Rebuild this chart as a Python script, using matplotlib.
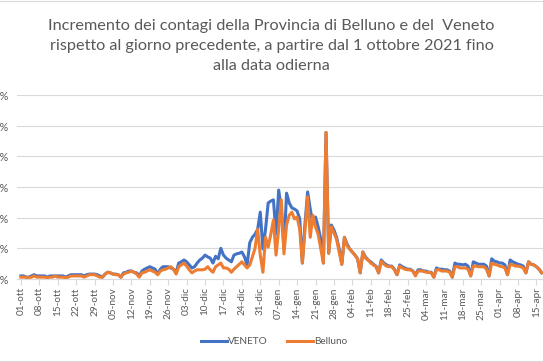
import matplotlib.pyplot as plt
import matplotlib.lines as mlines
import numpy as np
import pandas as pd

# daily increment (%) from 01-10-2021
start = '2021-10-01'
veneto = [
    # ott
    0.05, 0.05, 0.03, 0.03, 0.05, 0.07, 0.05, 0.05, 0.05, 0.05, 0.03, 0.05, 0.05, 0.05, 0.05, 0.05,
    0.05, 0.03, 0.05, 0.07, 0.07, 0.07, 0.07, 0.07, 0.05, 0.07, 0.08, 0.08, 0.08, 0.07, 0.05,
    # nov
    0.03, 0.08, 0.11, 0.10, 0.08, 0.08, 0.07, 0.03, 0.10, 0.11, 0.13, 0.13, 0.11, 0.10, 0.05,
    0.13, 0.16, 0.18, 0.20, 0.18, 0.16, 0.08, 0.16, 0.20, 0.20, 0.20, 0.18, 0.16, 0.11,
    # dic
    0.26, 0.28, 0.31, 0.28, 0.23, 0.18, 0.20, 0.26, 0.31, 0.34, 0.39, 0.36, 0.34, 0.26, 0.37, 0.33,
    0.50, 0.39, 0.34, 0.31, 0.28, 0.39, 0.41, 0.42, 0.44, 0.36, 0.23, 0.59, 0.68, 0.73, 0.81, 1.09,
    # gen
    0.49, 0.81, 1.24, 1.27, 1.29, 0.73, 1.45, 1.14, 0.49, 1.40, 1.24, 1.16, 1.14, 1.11, 0.98, 0.26,
    0.90, 1.42, 1.14, 0.90, 1.01, 0.85, 0.65, 0.26, 2.39, 0.42, 0.88, 0.80, 0.68, 0.49, 0.24,
    # feb
    0.68, 0.57, 0.49, 0.44, 0.39, 0.33, 0.10, 0.44, 0.36, 0.31, 0.28, 0.24, 0.21, 0.10,
    0.31, 0.26, 0.23, 0.21, 0.21, 0.16, 0.07, 0.23, 0.20, 0.18, 0.16, 0.16, 0.13, 0.07,
    # mar
    0.15, 0.15, 0.13, 0.13, 0.11, 0.11, 0.03, 0.18, 0.16, 0.16, 0.15, 0.15, 0.13, 0.03, 0.26, 0.24,
    0.24, 0.23, 0.24, 0.21, 0.05, 0.28, 0.26, 0.24, 0.24, 0.24, 0.21, 0.05, 0.33, 0.29, 0.28,
    # apr
    0.26, 0.26, 0.23, 0.07, 0.31, 0.28, 0.26, 0.24, 0.23, 0.21, 0.10, 0.28, 0.24, 0.23, 0.20, 0.16, 0.10,
]
belluno = [
    # ott
    0.03, 0.03, 0.03, 0.02, 0.03, 0.05, 0.03, 0.03, 0.03, 0.03, 0.02, 0.03, 0.03, 0.05, 0.03, 0.03,
    0.03, 0.02, 0.03, 0.05, 0.05, 0.05, 0.05, 0.05, 0.03, 0.05, 0.07, 0.07, 0.07, 0.05, 0.03,
    # nov
    0.03, 0.08, 0.11, 0.10, 0.08, 0.07, 0.07, 0.03, 0.08, 0.10, 0.11, 0.13, 0.11, 0.08, 0.03,
    0.10, 0.11, 0.13, 0.15, 0.13, 0.11, 0.07, 0.13, 0.15, 0.16, 0.18, 0.20, 0.16, 0.08,
    # dic
    0.20, 0.23, 0.26, 0.21, 0.15, 0.10, 0.13, 0.15, 0.15, 0.15, 0.16, 0.20, 0.15, 0.11, 0.20, 0.23,
    0.26, 0.18, 0.18, 0.16, 0.11, 0.16, 0.20, 0.24, 0.28, 0.23, 0.18, 0.23, 0.36, 0.50, 0.81, 0.39,
    # gen
    0.11, 0.68, 0.52, 0.73, 0.96, 0.39, 0.81, 1.29, 0.41, 0.88, 1.04, 1.09, 0.98, 1.01, 0.81, 0.26,
    0.81, 1.34, 0.68, 1.04, 0.85, 0.73, 0.49, 0.26, 2.39, 0.42, 0.85, 0.75, 0.65, 0.44, 0.24,
    # feb
    0.68, 0.54, 0.49, 0.44, 0.39, 0.33, 0.10, 0.44, 0.34, 0.31, 0.26, 0.23, 0.20, 0.10,
    0.29, 0.24, 0.21, 0.20, 0.20, 0.15, 0.07, 0.21, 0.18, 0.16, 0.15, 0.15, 0.13, 0.05,
    # mar
    0.13, 0.13, 0.13, 0.11, 0.11, 0.10, 0.03, 0.15, 0.15, 0.13, 0.13, 0.13, 0.11, 0.03, 0.20, 0.20,
    0.18, 0.18, 0.18, 0.16, 0.05, 0.21, 0.21, 0.20, 0.20, 0.20, 0.16, 0.05, 0.26, 0.24, 0.23,
    # apr
    0.21, 0.20, 0.18, 0.07, 0.24, 0.23, 0.21, 0.21, 0.20, 0.18, 0.10, 0.28, 0.24, 0.23, 0.20, 0.16, 0.10,
]
mesi = {10: 'ott', 11: 'nov', 12: 'dic', 1: 'gen', 2: 'feb', 3: 'mar', 4: 'apr'}
y_ticks = [0, 0.5, 1.0, 1.5, 2.0, 2.5, 3.0]

title = ('Incremento dei contagi della Provincia di Belluno e del  Veneto\n'
         'rispetto al giorno precedente, a partire dal 1 ottobre 2021 fino\n'
         'alla data odierna')

dates = pd.date_range(start, periods=len(veneto), freq='D')
tick_dates = dates[::7]
tick_labels = [f'{d.day:02d}-{mesi[d.month]}' for d in tick_dates]

plt.rcParams['font.family'] = ['Lato', 'DejaVu Sans']
grey = '#595959'

fig = plt.figure(figsize=(5.43, 3.62), dpi=100)
ax = fig.add_axes([17 / 543, 1 - 279 / 362, 526 / 543, (279 - 95) / 362])

ax.plot(dates, veneto, color='#4472C4', lw=2.2, label='VENETO', solid_joinstyle='round')
ax.plot(dates, belluno, color='#ED7D31', lw=2.2, label='Belluno', solid_joinstyle='round')

ax.set_xlim(dates[0] - pd.Timedelta(days=1.5), dates[0] + pd.Timedelta(days=198.5))
ax.set_ylim(0, 3)
ax.set_yticks(y_ticks)
# labels sit partly outside the picture, as in the original export
ax.set_yticklabels([f'{v:.2f}%'.replace('.', ',') for v in y_ticks])
ax.set_xticks(tick_dates)
ax.set_xticklabels(tick_labels, rotation=90)

ax.grid(axis='y', color='#d9d9d9', lw=0.8)
ax.set_axisbelow(True)
for s in ['top', 'right', 'left']:
    ax.spines[s].set_visible(False)
ax.spines['bottom'].set_color('#d9d9d9')
ax.tick_params(axis='x', colors=grey, labelsize=7.2, length=4, color='#d9d9d9', pad=2)
ax.tick_params(axis='y', colors=grey, labelsize=7.8, length=0, pad=6)

fig.text(0.5, 1 - 46 / 362, title, ha='center', va='center', fontsize=11.7,
         color=grey, linespacing=1.55)

fig.legend(loc='center', bbox_to_anchor=(274 / 543, 1 - 342 / 362), ncol=2, frameon=False,
           fontsize=7.2, handlelength=2.6, columnspacing=2.0, handletextpad=0.1,
           labelcolor=grey)

fig.add_artist(mlines.Line2D([0, 1], [0.998, 0.998], color='#d9d9d9', lw=0.8))
fig.add_artist(mlines.Line2D([0, 1], [0.004, 0.004], color='#d9d9d9', lw=0.8))

fig.savefig('out.png', dpi=100)
